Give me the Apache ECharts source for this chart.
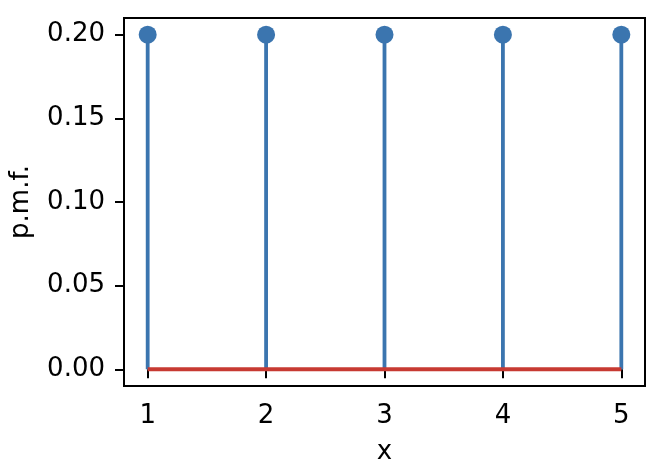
<!DOCTYPE html>
<html>
<head>
<meta charset="utf-8">
<script src="https://cdn.jsdelivr.net/npm/echarts@6/dist/echarts.min.js"></script>
<style>
  html, body { margin: 0; padding: 0; background: #fff; }
  #chart { width: 656px; height: 470px; }
</style>
</head>
<body>
<div id="chart"></div>
<script>
// stem plot of a uniform p.m.f.
const xs = [1, 2, 3, 4, 5]
const pmf = [0.2, 0.2, 0.2, 0.2, 0.2]
const xTicks = [1, 2, 3, 4, 5]
const yTicks = [0, 0.05, 0.1, 0.15, 0.2]

const stemColor = '#3b75af'
const baseColor = '#c73a32'
const font = 'DejaVu Sans'

const points = xs.map((x, i) => [x, pmf[i]])

const chart = echarts.init(document.getElementById('chart'))

const option = {
  animation: false,
  grid: {
    left: 124, right: 11, top: 18, bottom: 82,
    show: true, borderColor: '#000', borderWidth: 2, backgroundColor: 'transparent'
  },
  xAxis: {
    type: 'value',
    min: 0.8, max: 5.2,
    name: 'x',
    nameLocation: 'middle',
    nameGap: 53,
    nameTextStyle: { fontFamily: font, fontSize: 26, color: '#000' },
    axisLine: { show: false },
    axisTick: { show: true, length: 9, lineStyle: { color: '#000', width: 2 }, customValues: xTicks },
    axisLabel: { fontFamily: font, fontSize: 26, color: '#000', margin: 17, customValues: xTicks },
    splitLine: { show: false }
  },
  yAxis: {
    type: 'value',
    min: -0.01, max: 0.21,
    name: 'p.m.f.',
    nameLocation: 'middle',
    nameGap: 90,
    nameTextStyle: { fontFamily: font, fontSize: 26, color: '#000' },
    axisLine: { show: false },
    axisTick: { show: true, length: 9, lineStyle: { color: '#000', width: 2 }, customValues: yTicks },
    axisLabel: {
      fontFamily: font, fontSize: 26, color: '#000', margin: 19,
      customValues: yTicks,
      formatter: v => v.toFixed(2)
    },
    splitLine: { show: false }
  },
  series: [
    {
      type: 'custom',
      data: points,
      renderItem: (params, api) => {
        const top = api.coord([api.value(0), api.value(1)])
        const bottom = api.coord([api.value(0), 0])
        return {
          type: 'line',
          shape: { x1: top[0], y1: top[1], x2: bottom[0], y2: bottom[1] },
          style: { stroke: stemColor, lineWidth: 3.8 }
        }
      },
      z: 2
    },
    {
      type: 'line',
      data: [[xs[0], 0], [xs[xs.length - 1], 0]],
      symbol: 'none',
      lineStyle: { color: baseColor, width: 3.8 },
      z: 3
    },
    {
      type: 'scatter',
      data: points,
      symbol: 'circle',
      symbolSize: 18,
      itemStyle: { color: stemColor, opacity: 1 },
      z: 4
    }
  ]
}

chart.setOption(option)
</script>
</body>
</html>
